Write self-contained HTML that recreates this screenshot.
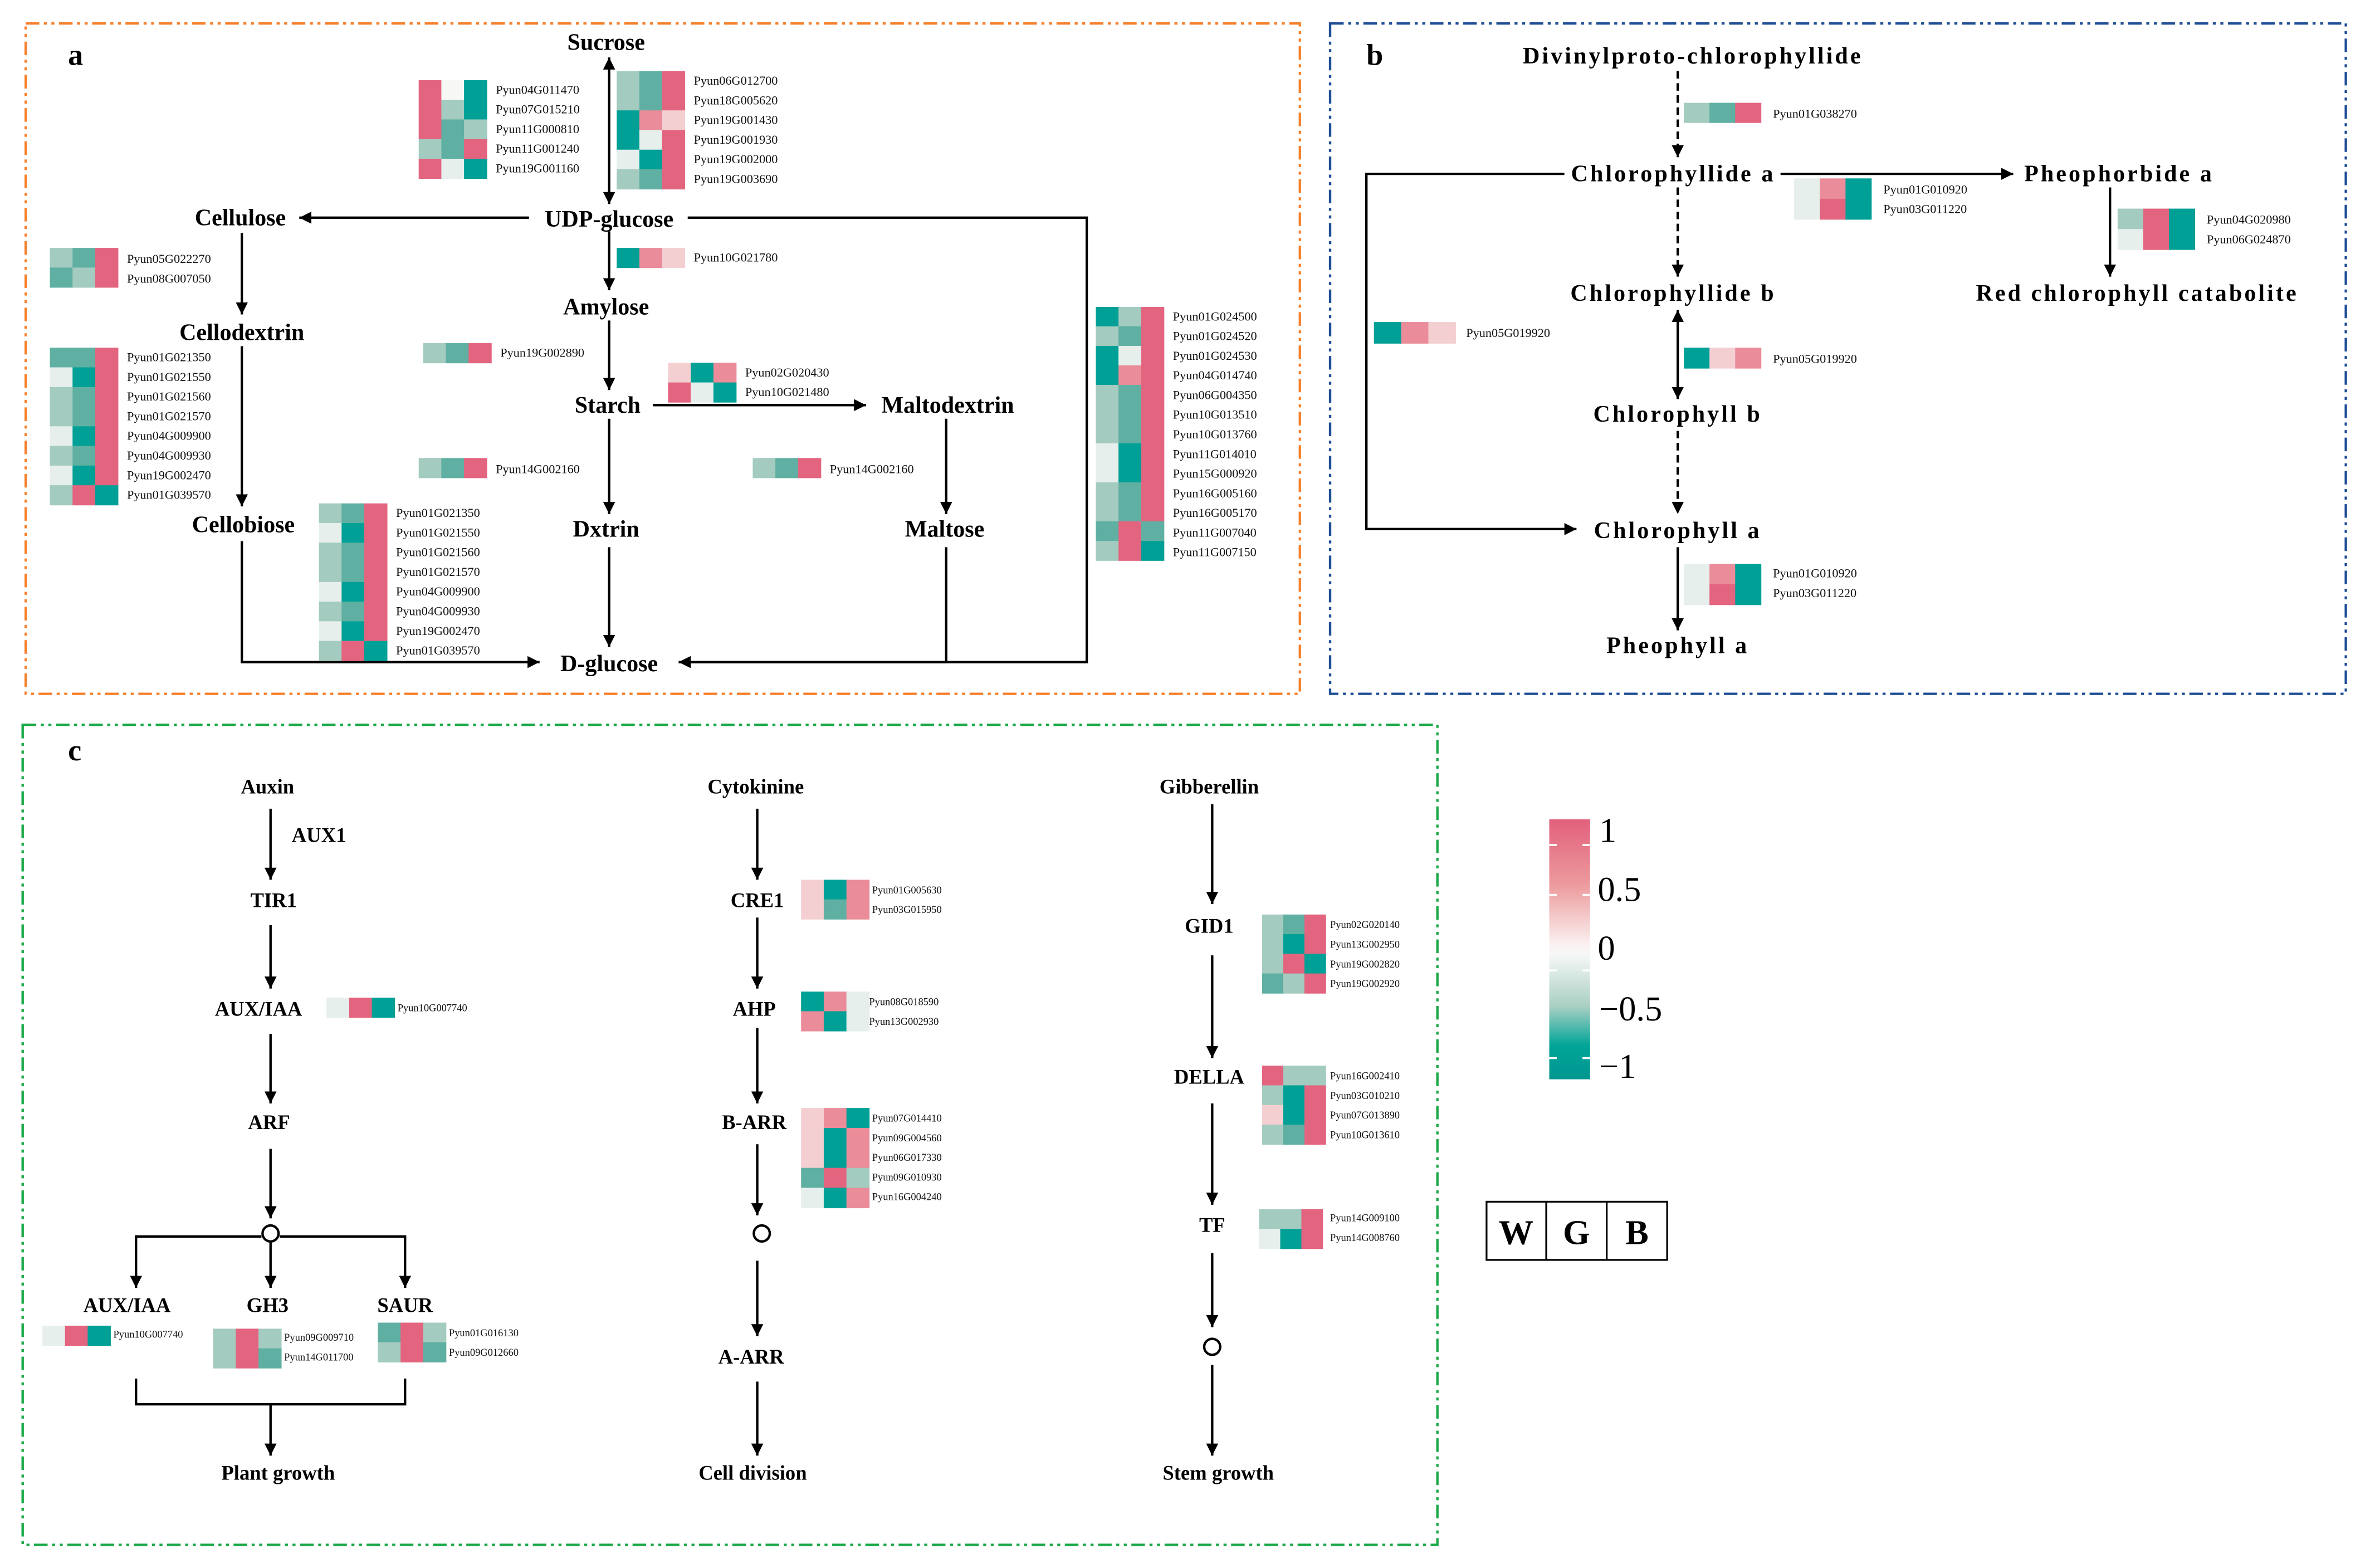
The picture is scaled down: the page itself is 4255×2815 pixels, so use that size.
<!DOCTYPE html>
<html><head><meta charset="utf-8">
<style>
html,body{margin:0;padding:0;background:#fff;}
svg{display:block;}
.t{font-family:"Liberation Serif",serif;font-weight:bold;font-size:15.5px;text-anchor:middle;fill:#000;}
.tb{letter-spacing:1.5px;}
.c{font-family:"Liberation Serif",serif;font-weight:bold;font-size:13.5px;text-anchor:middle;fill:#000;}
.g{font-family:"Liberation Serif",serif;font-size:8.2px;fill:#111;}
.gs{font-family:"Liberation Serif",serif;font-size:6.8px;fill:#111;}
</style></head>
<body>
<svg id="s" xmlns="http://www.w3.org/2000/svg" width="4255" height="2815" viewBox="0 0 1568 1037.3">
<defs>
<marker id="a" markerUnits="userSpaceOnUse" markerWidth="10" markerHeight="10" refX="8" refY="4" orient="auto-start-reverse"><path d="M0,0 L8,4 L0,8 z" fill="#000"/></marker>
<linearGradient id="cb" x1="0" y1="0" x2="0" y2="1">
<stop offset="0" stop-color="#e2607d"/><stop offset="0.25" stop-color="#ec9a9c"/><stop offset="0.48" stop-color="#fbf0f0"/><stop offset="0.52" stop-color="#f6f8f6"/><stop offset="0.72" stop-color="#a9cfc3"/><stop offset="0.87" stop-color="#00a598"/><stop offset="1" stop-color="#009690"/>
</linearGradient>
</defs>
<g fill="none" stroke-dasharray="9,3,2,3,2,3">
<rect x="17" y="15.5" width="843" height="443.5" stroke="#f57f2b" stroke-width="1.6"/>
<rect x="880" y="15.5" width="672" height="443.5" stroke="#1f4e96" stroke-width="1.6"/>
<rect x="15" y="479.5" width="936" height="542.5" stroke="#1aa847" stroke-width="1.6"/>
</g>
<g class="t" style="font-size:20px;text-anchor:start"><text x="45" y="43">a</text><text x="904" y="43">b</text><text x="45" y="503">c</text></g>

<!-- panel a -->
<g class="t">
<text x="401" y="33">Sucrose</text><text x="403" y="150">UDP-glucose</text><text x="159" y="149">Cellulose</text>
<text x="160" y="225">Cellodextrin</text><text x="161" y="352">Cellobiose</text><text x="401" y="208">Amylose</text>
<text x="402" y="273">Starch</text><text x="627" y="273">Maltodextrin</text><text x="401" y="355">Dxtrin</text>
<text x="625" y="355">Maltose</text><text x="403" y="444">D-glucose</text>
</g>
<g stroke="#000" stroke-width="1.6" fill="none">
<line x1="403" y1="38" x2="403" y2="135" marker-start="url(#a)" marker-end="url(#a)"/>
<line x1="350" y1="144" x2="198" y2="144" marker-end="url(#a)"/>
<line x1="160" y1="154" x2="160" y2="208" marker-end="url(#a)"/>
<line x1="160" y1="229" x2="160" y2="335" marker-end="url(#a)"/>
<polyline points="160,358 160,438 357,438" marker-end="url(#a)"/>
<line x1="403" y1="153" x2="403" y2="192" marker-end="url(#a)"/>
<line x1="403" y1="212" x2="403" y2="258" marker-end="url(#a)"/>
<line x1="432" y1="268" x2="573" y2="268" marker-end="url(#a)"/>
<line x1="403" y1="277" x2="403" y2="340" marker-end="url(#a)"/>
<line x1="403" y1="362" x2="403" y2="428" marker-end="url(#a)"/>
<line x1="626" y1="277" x2="626" y2="340" marker-end="url(#a)"/>
<polyline points="626,362 626,438 449,438" marker-end="url(#a)"/>
<polyline points="455,144 719,144 719,438 449,438" marker-end="url(#a)"/>
</g>
<g class="g">
<text x="328" y="62">Pyun04G011470</text><text x="328" y="75">Pyun07G015210</text><text x="328" y="88">Pyun11G000810</text><text x="328" y="101">Pyun11G001240</text><text x="328" y="114">Pyun19G001160</text>
<text x="459" y="56">Pyun06G012700</text><text x="459" y="69">Pyun18G005620</text><text x="459" y="82">Pyun19G001430</text><text x="459" y="95">Pyun19G001930</text><text x="459" y="108">Pyun19G002000</text><text x="459" y="121">Pyun19G003690</text>
<text x="459" y="173">Pyun10G021780</text>
<text x="84" y="174">Pyun05G022270</text><text x="84" y="187">Pyun08G007050</text>
<text x="84" y="239">Pyun01G021350</text><text x="84" y="252">Pyun01G021550</text><text x="84" y="265">Pyun01G021560</text><text x="84" y="278">Pyun01G021570</text><text x="84" y="291">Pyun04G009900</text><text x="84" y="304">Pyun04G009930</text><text x="84" y="317">Pyun19G002470</text><text x="84" y="330">Pyun01G039570</text>
<text x="262" y="342">Pyun01G021350</text><text x="262" y="355">Pyun01G021550</text><text x="262" y="368">Pyun01G021560</text><text x="262" y="381">Pyun01G021570</text><text x="262" y="394">Pyun04G009900</text><text x="262" y="407">Pyun04G009930</text><text x="262" y="420">Pyun19G002470</text><text x="262" y="433">Pyun01G039570</text>
<text x="331" y="236">Pyun19G002890</text>
<text x="493" y="249">Pyun02G020430</text><text x="493" y="262">Pyun10G021480</text>
<text x="328" y="313">Pyun14G002160</text><text x="549" y="313">Pyun14G002160</text>
<text x="776" y="212">Pyun01G024500</text><text x="776" y="225">Pyun01G024520</text><text x="776" y="238">Pyun01G024530</text><text x="776" y="251">Pyun04G014740</text><text x="776" y="264">Pyun06G004350</text><text x="776" y="277">Pyun10G013510</text><text x="776" y="290">Pyun10G013760</text><text x="776" y="303">Pyun11G014010</text><text x="776" y="316">Pyun15G000920</text><text x="776" y="329">Pyun16G005160</text><text x="776" y="342">Pyun16G005170</text><text x="776" y="355">Pyun11G007040</text><text x="776" y="368">Pyun11G007150</text>
</g>

<!-- panel b -->
<g class="t tb">
<text x="1120" y="42">Divinylproto-chlorophyllide</text><text x="1107" y="120">Chlorophyllide a</text><text x="1402" y="120">Pheophorbide a</text>
<text x="1107" y="199">Chlorophyllide b</text><text x="1414" y="199">Red chlorophyll catabolite</text><text x="1110" y="279">Chlorophyll b</text>
<text x="1110" y="356">Chlorophyll a</text><text x="1110" y="432">Pheophyll a</text>
</g>
<g stroke="#000" stroke-width="1.6" fill="none">
<line x1="1110" y1="47" x2="1110" y2="104" stroke-dasharray="5,3" marker-end="url(#a)"/>
<line x1="1178" y1="115" x2="1332" y2="115" marker-end="url(#a)"/>
<line x1="1396" y1="124" x2="1396" y2="183" marker-end="url(#a)"/>
<line x1="1110" y1="124" x2="1110" y2="183" stroke-dasharray="5,3" marker-end="url(#a)"/>
<line x1="1110" y1="205" x2="1110" y2="264" marker-start="url(#a)" marker-end="url(#a)"/>
<line x1="1110" y1="285" x2="1110" y2="340" stroke-dasharray="5,3" marker-end="url(#a)"/>
<polyline points="1035,115 904,115 904,350 1043,350" marker-end="url(#a)"/>
<line x1="1110" y1="362" x2="1110" y2="417" marker-end="url(#a)"/>
</g>
<g class="g">
<text x="1173" y="78">Pyun01G038270</text>
<text x="1246" y="128">Pyun01G010920</text><text x="1246" y="141">Pyun03G011220</text>
<text x="1460" y="148">Pyun04G020980</text><text x="1460" y="161">Pyun06G024870</text>
<text x="1173" y="240">Pyun05G019920</text><text x="970" y="223">Pyun05G019920</text>
<text x="1173" y="382">Pyun01G010920</text><text x="1173" y="395">Pyun03G011220</text>
</g>

<!-- panel c -->
<g class="c">
<text x="177" y="525">Auxin</text><text x="211" y="557">AUX1</text><text x="181" y="600">TIR1</text><text x="171" y="672">AUX/IAA</text>
<text x="178" y="747">ARF</text><text x="84" y="868">AUX/IAA</text><text x="177" y="868">GH3</text><text x="268" y="868">SAUR</text>
<text x="184" y="979">Plant growth</text>
<text x="500" y="525">Cytokinine</text><text x="501" y="600">CRE1</text><text x="499" y="672">AHP</text><text x="499" y="747">B-ARR</text>
<text x="497" y="902">A-ARR</text><text x="498" y="979">Cell division</text>
<text x="800" y="525">Gibberellin</text><text x="800" y="617">GID1</text><text x="800" y="717">DELLA</text><text x="802" y="815">TF</text>
<text x="806" y="979">Stem growth</text>
</g>
<g stroke="#000" stroke-width="1.6" fill="none">
<line x1="179" y1="535" x2="179" y2="582" marker-end="url(#a)"/>
<line x1="179" y1="612" x2="179" y2="654" marker-end="url(#a)"/>
<line x1="179" y1="684" x2="179" y2="730" marker-end="url(#a)"/>
<line x1="179" y1="760" x2="179" y2="806" marker-end="url(#a)"/>
<circle cx="179" cy="816" r="5.3"/>
<polyline points="173,818 90,818 90,852" marker-end="url(#a)"/>
<polyline points="185,818 268,818 268,852" marker-end="url(#a)"/>
<line x1="179" y1="822" x2="179" y2="852" marker-end="url(#a)"/>
<polyline points="90,912 90,929 268,929 268,912"/>
<line x1="179" y1="929" x2="179" y2="963" marker-end="url(#a)"/>
<line x1="501" y1="535" x2="501" y2="582" marker-end="url(#a)"/>
<line x1="501" y1="607" x2="501" y2="654" marker-end="url(#a)"/>
<line x1="501" y1="680" x2="501" y2="730" marker-end="url(#a)"/>
<line x1="501" y1="757" x2="501" y2="804" marker-end="url(#a)"/>
<circle cx="504" cy="816" r="5.3"/>
<line x1="501" y1="834" x2="501" y2="884" marker-end="url(#a)"/>
<line x1="501" y1="914" x2="501" y2="963" marker-end="url(#a)"/>
<line x1="802" y1="532" x2="802" y2="598" marker-end="url(#a)"/>
<line x1="802" y1="632" x2="802" y2="700" marker-end="url(#a)"/>
<line x1="802" y1="730" x2="802" y2="797" marker-end="url(#a)"/>
<line x1="802" y1="829" x2="802" y2="878" marker-end="url(#a)"/>
<circle cx="802" cy="891" r="5.3"/>
<line x1="802" y1="903" x2="802" y2="963" marker-end="url(#a)"/>
</g>
<g class="gs">
<text x="263" y="669">Pyun10G007740</text><text x="75" y="885">Pyun10G007740</text>
<text x="188" y="887">Pyun09G009710</text><text x="188" y="900">Pyun14G011700</text>
<text x="297" y="884">Pyun01G016130</text><text x="297" y="897">Pyun09G012660</text>
<text x="577" y="591">Pyun01G005630</text><text x="577" y="604">Pyun03G015950</text>
<text x="575" y="665">Pyun08G018590</text><text x="575" y="678">Pyun13G002930</text>
<text x="577" y="742">Pyun07G014410</text><text x="577" y="755">Pyun09G004560</text><text x="577" y="768">Pyun06G017330</text><text x="577" y="781">Pyun09G010930</text><text x="577" y="794">Pyun16G004240</text>
<text x="880" y="614">Pyun02G020140</text><text x="880" y="627">Pyun13G002950</text><text x="880" y="640">Pyun19G002820</text><text x="880" y="653">Pyun19G002920</text>
<text x="880" y="714">Pyun16G002410</text><text x="880" y="727">Pyun03G010210</text><text x="880" y="740">Pyun07G013890</text><text x="880" y="753">Pyun10G013610</text>
<text x="880" y="808">Pyun14G009100</text><text x="880" y="821">Pyun14G008760</text>
</g>

<!-- legend -->
<rect x="1025" y="542" width="27" height="172" fill="url(#cb)"/>
<g stroke="#fff" stroke-width="1.3">
<line x1="1025" y1="592" x2="1030" y2="592"/><line x1="1047" y1="592" x2="1052" y2="592"/>
<line x1="1025" y1="559" x2="1030" y2="559"/><line x1="1047" y1="559" x2="1052" y2="559"/>
<line x1="1025" y1="642" x2="1030" y2="642"/><line x1="1047" y1="642" x2="1052" y2="642"/>
<line x1="1025" y1="700" x2="1030" y2="700"/><line x1="1047" y1="700" x2="1052" y2="700"/>
</g>
<g font-family="Liberation Serif,serif" font-size="23" fill="#000">
<text x="1058" y="557">1</text><text x="1057" y="596">0.5</text><text x="1057" y="635">0</text><text x="1058" y="675">−0.5</text><text x="1058" y="713">−1</text>
</g>
<g fill="none" stroke="#000" stroke-width="1.2">
<rect x="983.5" y="795" width="119.5" height="38.5"/><line x1="1023" y1="795" x2="1023" y2="833.5"/><line x1="1063" y1="795" x2="1063" y2="833.5"/>
</g>
<g class="t" style="font-size:23px"><text x="1003" y="823">W</text><text x="1043" y="823">G</text><text x="1083" y="823">B</text></g>
<g id="hm"></g>
</svg>
<script>
var C={T:"#00a096",t:"#5fb0a2",g:"#a3cbbf",w:"#e6efec",p:"#f4cfd2",P:"#ea8c99",R:"#e3647f",W:"#f7f8f6"};
var H=[
[277,53,15,13,["RWT","RgT","Rtg","gtR","RwT"]],
[408,47,15,13,["gtR","gtR","TPp","TwR","wTR","gtR"]],
[408,164,15,13,["TPp"]],
[33,164,15,13,["gtR","tgR"]],
[33,230,15,13,["ttR","wTR","gtR","gtR","wTR","gtR","wTR","gRT"]],
[211,333,15,13,["gtR","wTR","gtR","gtR","wTR","gtR","wTR","gRT"]],
[280,227,15,13,["gtR"]],
[442,240,15,13,["pTP","RwT"]],
[277,303,15,13,["gtR"]],
[498,303,15,13,["gtR"]],
[725,203,15,12.9,["TgR","gtR","TwR","TPR","gtR","gtR","gtR","wTR","wTR","gtR","gtR","tRt","gRT"]],
[1114,68,17,13,["gtR"]],
[1187,118,17,13.5,["wPT","wRT"]],
[1401,138,17,13.5,["gRT","wRT"]],
[1114,230,17,13.5,["TpP"]],
[909,213,18,14,["TPp"]],
[1114,373,17,13.5,["wPT","wRT"]],
[216,660,15,13,["wRT"]],
[28,877,15,13,["wRT"]],
[141,879,15,13,["gRg","gRt"]],
[250,875,15,13,["tRg","gRt"]],
[530,582,15,13,["pTP","ptP"]],
[530,656,15,13,["TPw","PTw"]],
[530,733,15,13.2,["pPT","pTP","pTP","tRg","wTP"]],
[835,605,14,13,["gtR","gTR","gRT","tgR"]],
[835,705,14,13,["Rgg","gTR","pTR","gtR"]],
[833,800,14,13,["ggR","wTR"]]
];
var g=document.getElementById("hm"),ns="http://www.w3.org/2000/svg";
H.forEach(function(h){h[4].forEach(function(r,i){for(var j=0;j<3;j++){var e=document.createElementNS(ns,"rect");
e.setAttribute("x",h[0]+j*h[2]);e.setAttribute("y",h[1]+i*h[3]);e.setAttribute("width",h[2]+0.3);e.setAttribute("height",h[3]+0.3);
e.setAttribute("fill",C[r[j]]);g.appendChild(e);}});});
</script>
</body></html>
